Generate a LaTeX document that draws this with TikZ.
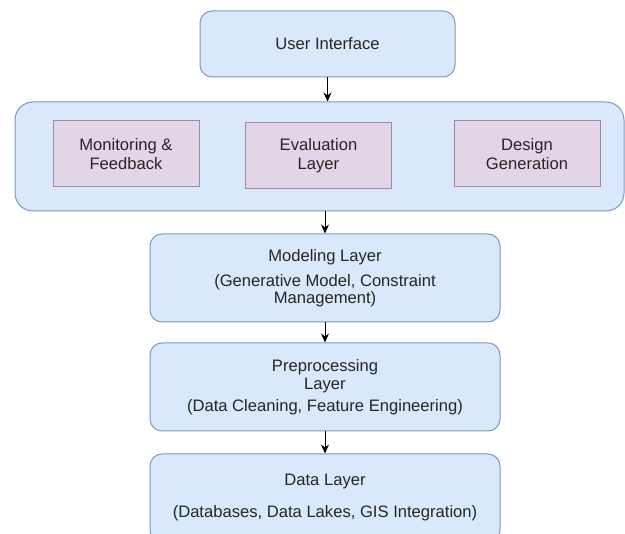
\documentclass[tikz,border=0pt]{standalone}
\usepackage{fontspec}
\setmainfont{Liberation Sans}
\usepackage{tikz}
\usetikzlibrary{positioning}
\usetikzlibrary{arrows.meta}

\definecolor{boxblue}{HTML}{DAE8FC}
\definecolor{lineblue}{HTML}{7F98C0}
\definecolor{boxpurple}{HTML}{E1D5E7}
\definecolor{linepurple}{HTML}{9E86AC}

\begin{document}
\begin{tikzpicture}[x=1pt, y=-1pt,
    font=\fontsize{16.6}{16.6}\selectfont, text=black!85,
    layerbox/.style={rectangle, rounded corners=12pt, draw=lineblue, fill=boxblue, line width=1pt, minimum width=350pt, minimum height=88pt, align=center, inner sep=0pt},
    partbox/.style={rectangle, draw=linepurple, fill=boxpurple, line width=1pt, minimum width=146pt, minimum height=66pt, align=center, inner sep=0pt},
    flow/.style={-{Stealth[length=9pt, width=8pt]}, line width=1pt, black}]
        \clip (0,0) rectangle (625,534);
        \fill[white] (0,0) rectangle (625,534);

        \node[layerbox, minimum width=255pt, minimum height=66pt] (ui) at (327.5,44) {User Interface};

        % frame round the three parts
        \node[layerbox, rounded corners=18pt, minimum width=609pt, minimum height=109pt] (frame) at (319.5,156.5) {};
        \node[partbox] (monitor) at (126,154) {Monitoring \&\\[2.4pt]Feedback};
        \node[partbox] (eval) at (318.5,156) {Evaluation\\[2.4pt]Layer};
        \node[partbox] (design) at (527,154) {Design\\[2.4pt]Generation};

        \node[layerbox] (model) at (325,278) {Modeling Layer\\[8.4pt](Generative Model, Constraint\\Management)};
        \node[layerbox] (prep) [below=20pt of model] {Preprocessing\\[1.4pt]Layer\\[5.4pt](Data Cleaning, Feature Engineering)};
        \node[layerbox] (data) [below=22pt of prep] {Data Layer\\[15.4pt](Databases, Data Lakes, GIS Integration)};

        \draw[flow] (ui) -- (ui |- frame.north);
        \draw[flow] (model |- frame.south) -- (model);
        \draw[flow] (model) -- (prep);
        \draw[flow] (prep) -- (data);
    \end{tikzpicture}
\end{document}
